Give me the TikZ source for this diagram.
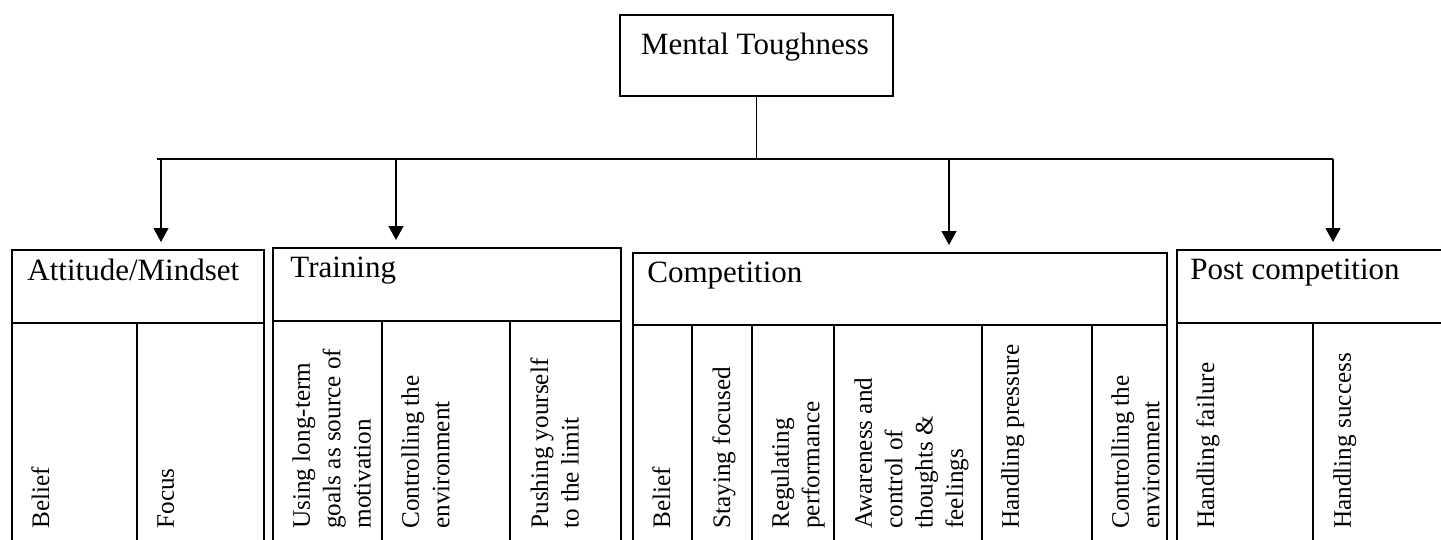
\documentclass[tikz,border=0pt]{standalone}
\usepackage{fontspec}
\setmainfont{Liberation Serif}
\usetikzlibrary{arrows.meta}
\newcommand{\hdrfont}{\fontsize{15.5}{18}\selectfont}
\newcommand{\leaffont}{\fontsize{12.6}{15.2}\selectfont}
\tikzset{
  grp/.style={draw,line width=1pt,inner sep=0pt,anchor=north west},
  rule/.style={line width=1pt},
  hdr/.style={anchor=base west,inner sep=0pt,font=\hdrfont},
  leaf/.style={rotate=90,anchor=north west,inner sep=0pt,align=left,font=\leaffont},
  link/.style={line width=0.6pt},
  arr/.style={link,-{Triangle[length=7pt,width=7.5pt]},shorten >=3.5pt}
}

\begin{document}
\begin{tikzpicture}[x=0.5pt,y=-0.5pt]
  \useasboundingbox (0,0) rectangle (1441,540);
  % top box
  \node[draw,line width=0.9pt,inner sep=0pt,minimum width=136.5pt,minimum height=40.5pt] (mt) at (756.5,55.5) {};
  \node[anchor=base,inner sep=0pt,font=\hdrfont] (mttext) at (755,55) {Mental Toughness};
  % bus and arrows
  \coordinate (busL) at (157,159);
  \coordinate (busR) at (1333,159);
  \draw[link] (mt.south) -- (mt.south |- busL);
  \draw[link] (busL) -- (busR);
  % group boxes
  \node[grp,minimum width=126pt,minimum height=155.5pt] (attitude) at (11,249) {};
  \node[grp,minimum width=174pt,minimum height=156.5pt] (training) at (272,247) {};
  \node[grp,minimum width=267pt,minimum height=154pt] (competition) at (632,252) {};
  \node[grp,minimum width=137pt,minimum height=155.5pt] (post) at (1176,249) {};
  \foreach \x/\g in {161/attitude,396/training,949/competition,1333/post}
    \draw[arr] (\x,159) -- (\x,159 |- \g.north);
  % headers
  \node[hdr] (attitudeT) at (27,280) {Attitude/Mindset};
  \node[hdr] (trainingT) at (290,277) {Training};
  \node[hdr] (competitionT) at (647,282) {Competition};
  \node[hdr] (postT) at (1190,279) {Post competition};
  \draw[rule] (11,323) -- (263,323) (272,321) -- (620,321)
    (632,325) -- (1166,325) (1176,323) -- (1450,323);
  % columns
  \draw[rule] (137,323) -- (137,560);
  \foreach \x in {382,510} \draw[rule] (\x,321) -- (\x,560);
  \foreach \x in {692,752,834,982,1092} \draw[rule] (\x,325) -- (\x,560);
  \draw[rule] (1313,323) -- (1313,560);
  % leaves
  \node[leaf] (belief1) at (31,529) {Belief};
  \node[leaf] (focus) at (157,529) {Focus};
  \node[leaf] (goals) at (292,529) {Using long-term\\goals as source of\\motivation};
  \node[leaf] (control1) at (401,529) {Controlling the\\environment};
  \node[leaf] (pushing) at (530,529) {Pushing yourself\\to the limit};
  \node[leaf] (belief2) at (652,529) {Belief};
  \node[leaf] (staying) at (712,529) {Staying focused};
  \node[leaf] (regulating) at (771,529) {Regulating\\performance};
  \node[leaf] (awareness) at (854,529) {Awareness and\\control of\\thoughts \&\\feelings};
  \node[leaf] (pressure) at (1001,529) {Handling pressure};
  \node[leaf] (control2) at (1111,529) {Controlling the\\environment};
  \node[leaf] (failure) at (1196,529) {Handling failure};
  \node[leaf] (success) at (1333,529) {Handling success};
\end{tikzpicture}
\end{document}
